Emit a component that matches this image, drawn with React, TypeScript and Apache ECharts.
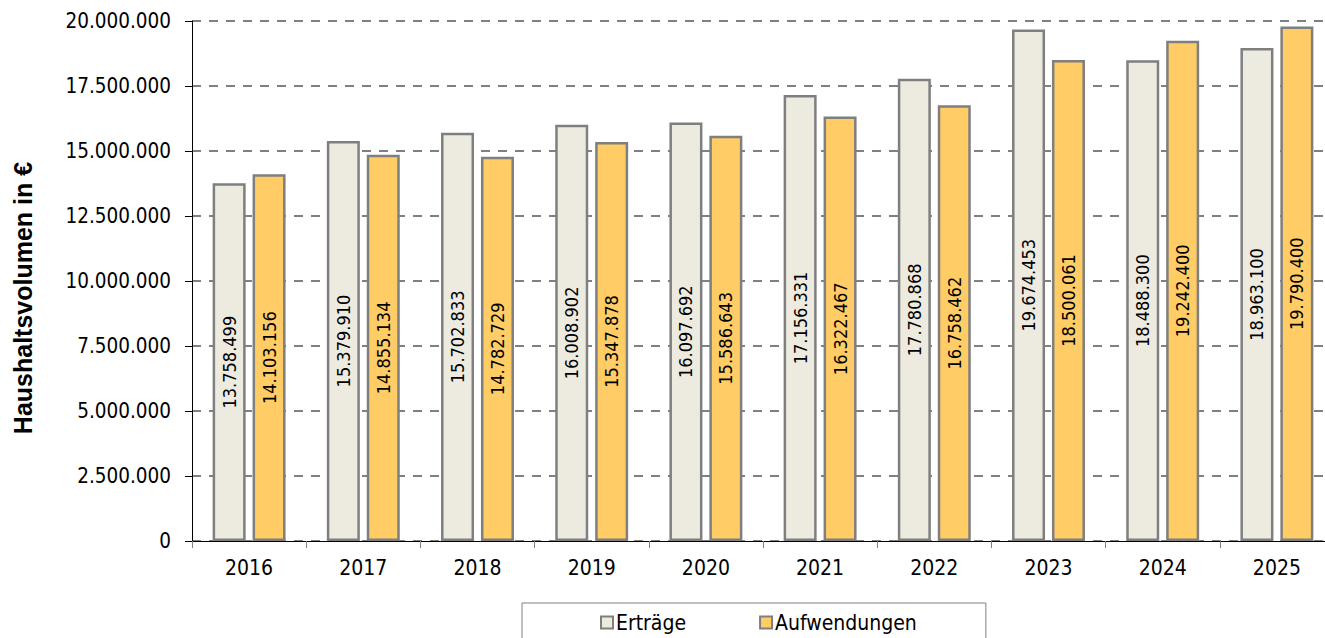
import React, { useEffect, useRef } from "react";
import * as echarts from "echarts";

const years = ["2016", "2017", "2018", "2019", "2020", "2021", "2022", "2023", "2024", "2025"];
const ertraege = [13758499, 15379910, 15702833, 16008902, 16097692, 17156331, 17780868, 19674453, 18488300, 18963100];
const aufwendungen = [14103156, 14855134, 14782729, 15347878, 15586643, 16322467, 16758462, 18500061, 19242400, 19790400];

const FONT = "'DejaVu Sans Condensed', 'DejaVu Sans', sans-serif";

// German number format with dot as thousands separator
const fmt = (v: number) => String(Math.round(v)).replace(/\B(?=(\d{3})+(?!\d))/g, ".");

export default function App() {
  const ref = useRef<HTMLDivElement>(null);

  useEffect(() => {
    if (!ref.current) return;
    const chart = echarts.init(ref.current, null, { renderer: "svg" });
    const barLabel = {
      show: true,
      position: "inside" as const,
      rotate: 90,
      color: "#000",
      fontFamily: FONT,
      fontSize: 18,
      formatter: (p: any) => fmt(p.value),
    };
    chart.setOption({
      animation: false,
      backgroundColor: "#fff",
      grid: { left: 192, top: 21, width: 1142, height: 520, containLabel: false },
      graphic: [
        {
          type: "text",
          x: 23,
          y: 298,
          rotation: Math.PI / 2,
          style: {
            text: "Haushaltsvolumen in €",
            fontFamily: "'Liberation Sans', Arial, sans-serif",
            fontWeight: "bold",
            fontSize: 25,
            fill: "#000",
            textAlign: "center",
            textVerticalAlign: "middle",
          },
        },
      ],
      legend: {
        left: 522,
        top: 603,
        itemWidth: 12,
        itemHeight: 12,
        itemGap: 73,
        icon: "rect",
        borderColor: "#808080",
        borderWidth: 1,
        padding: [9, 69, 20, 78],
        textStyle: { fontFamily: FONT, fontSize: 21, color: "#000", padding: [0, 0, 0, -2] },
        data: ["Erträge", "Aufwendungen"],
      },
      xAxis: {
        type: "category",
        data: years,
        axisLine: { lineStyle: { color: "#000", width: 1 } },
        axisTick: { show: true, length: 7, lineStyle: { color: "#808080" } },
        axisLabel: { fontFamily: FONT, fontSize: 21, color: "#000", margin: 16 },
      },
      yAxis: {
        type: "value",
        min: 0,
        max: 20000000,
        interval: 2500000,
        axisLine: { show: true, lineStyle: { color: "#000", width: 1 } },
        axisTick: { show: true, length: 7, lineStyle: { color: "#000" } },
        axisLabel: {
          fontFamily: FONT,
          fontSize: 20.5,
          color: "#000",
          margin: 21,
          formatter: (v: number) => fmt(v),
        },
        splitLine: { lineStyle: { color: "#808080", width: 2, type: [9, 8] } },
      },
      series: [
        {
          name: "Erträge",
          type: "bar",
          data: ertraege,
          barWidth: 33,
          barGap: "21%",
          itemStyle: { color: "#EDEBE0", borderColor: "#7F7F7F", borderWidth: 2.5 },
          label: barLabel,
        },
        {
          name: "Aufwendungen",
          type: "bar",
          data: aufwendungen,
          barWidth: 33,
          barGap: "21%",
          itemStyle: { color: "#FFCC66", borderColor: "#7F7F7F", borderWidth: 2.5 },
          label: barLabel,
        },
      ],
    });
    return () => chart.dispose();
  }, []);

  return (
    <div style={{ position: "fixed", left: 0, top: 0, width: 1325, height: 638, overflow: "hidden", background: "#fff" }}>
      <div ref={ref} style={{ width: 1345, height: 638 }} />
    </div>
  );
}
